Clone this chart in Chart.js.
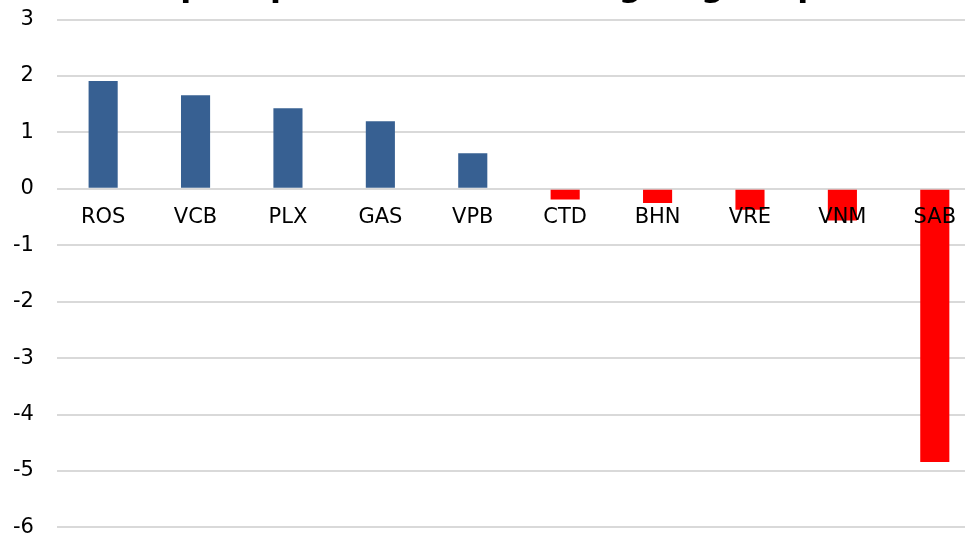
<!DOCTYPE html>
<html>
<head>
<meta charset="utf-8">
<script src="https://cdn.jsdelivr.net/npm/chart.js@4/dist/chart.umd.min.js"></script>
<style>
    html, body { margin: 0; padding: 0; background: #fff; overflow: hidden; }
    /* the source image is a crop of a larger chart, so the canvas overhangs the window */
    #wrap { position: absolute; left: -20px; top: -16px; width: 1001px; height: 579px; }
</style>
</head>
<body>
<div id="wrap"><canvas id="chart"></canvas></div>
<script>
// data
const titleText = "Top 10 point movers among large caps";
const tickers = ["ROS", "VCB", "PLX", "GAS", "VPB", "CTD", "BHN", "VRE", "VNM", "SAB"];
const points = [1.91, 1.66, 1.43, 1.20, 0.63, -0.19, -0.25, -0.37, -0.56, -4.84];
const yTicks = [3, 2, 1, 0, -1, -2, -3, -4, -5, -6];

const upColor = "#376092";
const downColor = "#FF0000";
const fontFamily = "'DejaVu Sans', Verdana, sans-serif";

// title sits mostly above the top edge, like the source image
const clippedTitle = {
    id: "clippedTitle",
    afterDraw(chart) {
        const ctx = chart.ctx;
        ctx.save();
        ctx.font = "bold 32px " + fontFamily;
        ctx.fillStyle = "#000";
        ctx.textAlign = "center";
        ctx.textBaseline = "alphabetic";
        ctx.fillText(titleText, 510, 12);
        ctx.restore();
    }
};

new Chart(document.getElementById("chart"), {
    type: "bar",
    data: {
        labels: tickers,
        datasets: [{
            data: points,
            backgroundColor: points.map(v => v >= 0 ? upColor : downColor),
            borderWidth: 0,
            barPercentage: 0.315,
            categoryPercentage: 1
        }]
    },
    options: {
        responsive: true,
        maintainAspectRatio: false,
        animation: false,
        layout: { padding: { top: 6, left: 10, right: 0, bottom: 0 } },
        plugins: {
            legend: { display: false },
            tooltip: { enabled: false }
        },
        scales: {
            x: {
                position: { y: 0 },
                grid: { display: false, drawTicks: false },
                border: { display: false },
                ticks: {
                    z: 1, // labels sit on top of the red bars
                    padding: 16,
                    color: "#000",
                    font: { family: fontFamily, size: 21 },
                    maxRotation: 0
                }
            },
            y: {
                min: -6,
                max: 3,
                afterBuildTicks: axis => { axis.ticks = yTicks.map(v => ({ value: v })); },
                grid: { color: "#D9D9D9", lineWidth: 2, drawTicks: false },
                border: { display: false },
                ticks: {
                    padding: 23,
                    color: "#000",
                    font: { family: fontFamily, size: 21 }
                }
            }
        }
    },
    plugins: [clippedTitle]
});
</script>
</body>
</html>
